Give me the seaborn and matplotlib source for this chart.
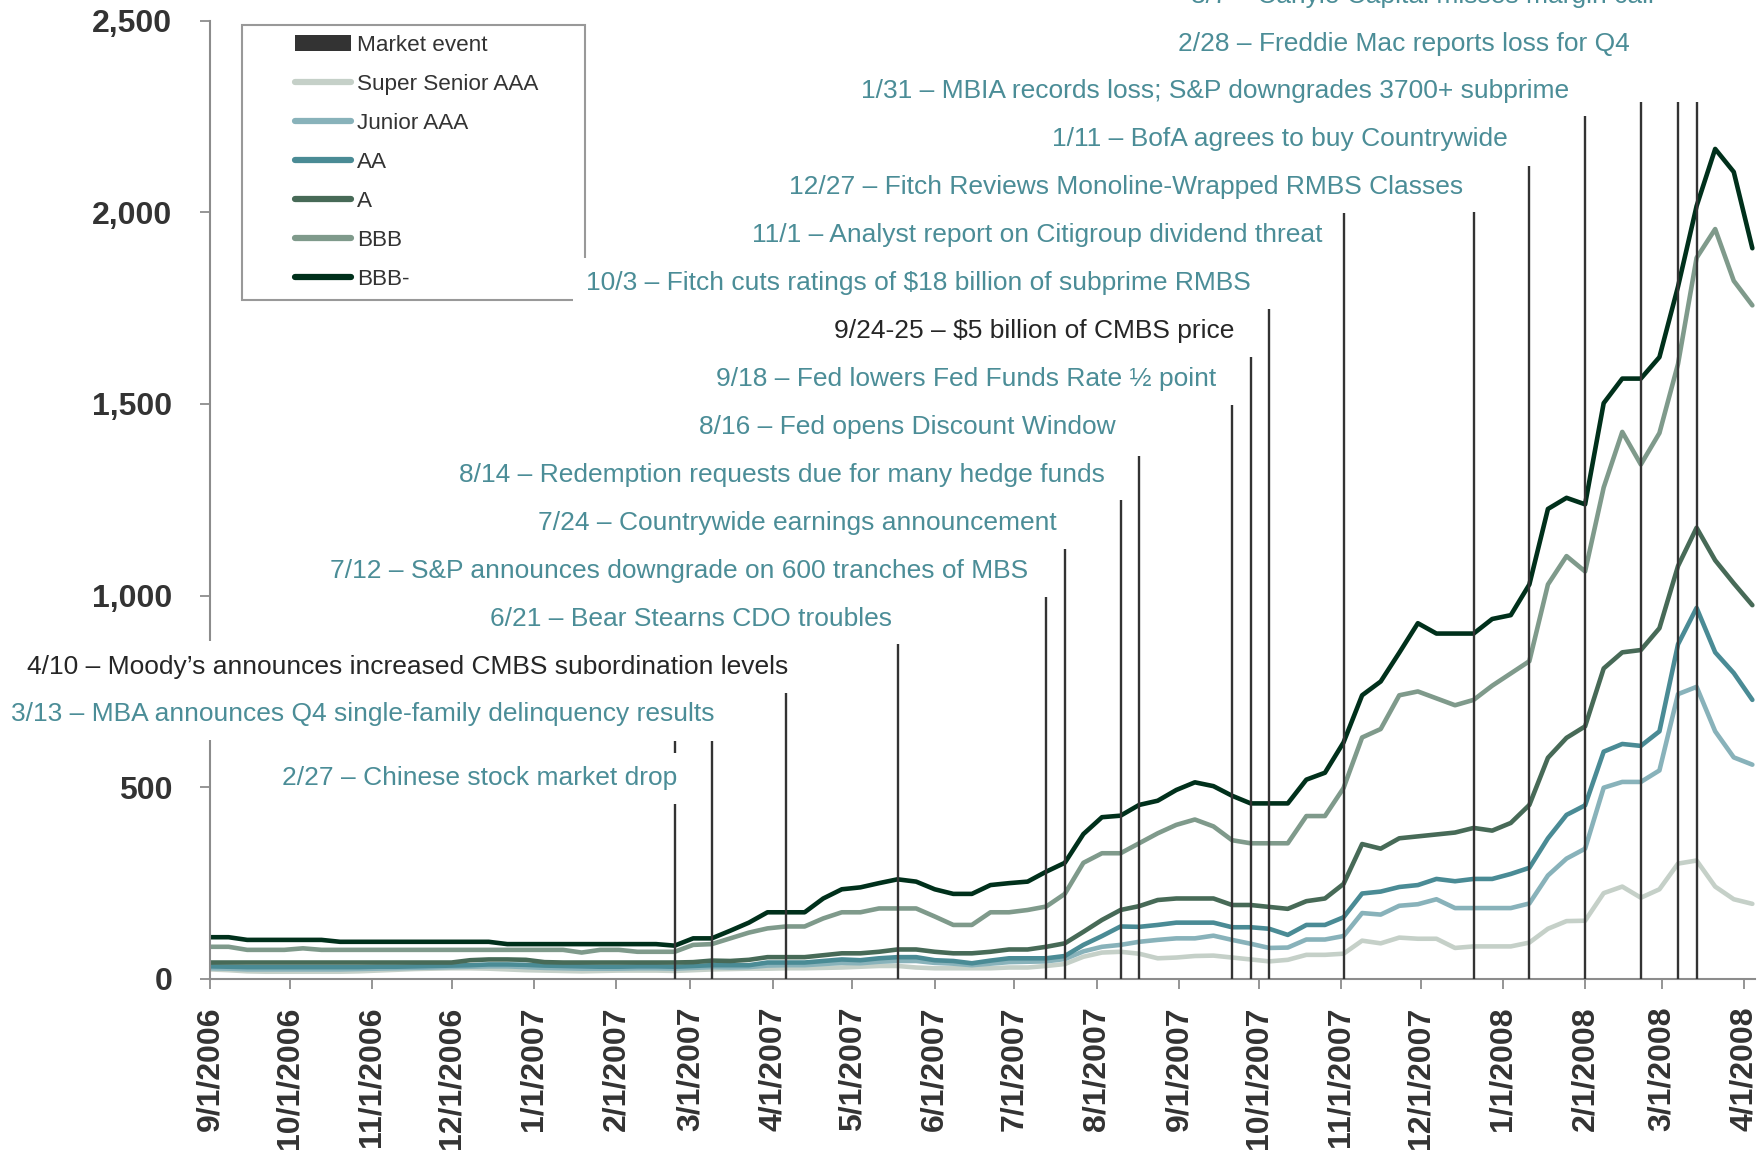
import pandas as pd
import seaborn as sns
import matplotlib.pyplot as plt
import matplotlib.dates as mdates
from matplotlib.patches import Patch, Rectangle
from matplotlib.lines import Line2D
from matplotlib.ticker import FuncFormatter

# weekly spread readings, 9/1/2006 .. 4/4/2008
dates = pd.date_range('2006-09-01', periods=84, freq='7D')

super_senior_aaa = [25, 23, 20, 19, 19, 19, 19, 19, 20, 22, 24, 26, 27, 28, 28, 27, 25, 23, 22, 21,
                    20, 21, 22, 22, 22, 21, 23, 25, 26, 27, 27, 28, 28, 29, 30, 32, 34, 34, 30, 28,
                    28, 28, 28, 30, 30, 34, 39, 58, 69, 71, 66, 54, 56, 60, 61, 56, 51, 46, 50, 63,
                    63, 66, 100, 93, 108, 105, 105, 81, 85, 85, 85, 95, 131, 151, 152, 224, 241, 212, 234, 301,
                    309, 241, 208, 196]
junior_aaa = [28, 27, 25, 25, 25, 25, 25, 25, 26, 27, 28, 29, 30, 31, 32, 33, 33, 31, 29, 28,
              27, 27, 27, 28, 28, 27, 29, 31, 30, 31, 35, 36, 36, 39, 42, 41, 45, 47, 47, 42,
              40, 36, 40, 44, 45, 46, 52, 72, 84, 89, 97, 102, 106, 106, 113, 102, 92, 81, 82, 103,
              103, 112, 172, 168, 191, 195, 208, 185, 185, 185, 185, 197, 270, 314, 340, 499, 514, 514, 544, 743,
              762, 646, 578, 559]
aa = [33, 32, 31, 31, 31, 31, 31, 31, 31, 32, 32, 33, 34, 35, 36, 38, 38, 37, 35, 34,
      33, 32, 32, 33, 33, 32, 34, 36, 36, 36, 43, 43, 43, 47, 51, 49, 54, 57, 57, 49,
      47, 41, 48, 54, 54, 54, 60, 89, 112, 137, 136, 141, 147, 147, 147, 135, 135, 131, 115, 141,
      141, 161, 223, 228, 240, 245, 261, 255, 261, 261, 274, 290, 367, 428, 453, 593, 613, 608, 646, 873,
      968, 852, 798, 728]
a = [43, 43, 43, 43, 43, 43, 43, 43, 43, 43, 43, 43, 43, 43, 49, 51, 51, 50, 44, 43,
     43, 43, 43, 43, 43, 43, 44, 48, 47, 50, 57, 57, 57, 62, 67, 67, 71, 77, 77, 71,
     67, 67, 71, 77, 77, 84, 93, 123, 154, 180, 190, 206, 210, 210, 210, 193, 193, 188, 183, 203,
     210, 248, 352, 340, 367, 372, 377, 382, 394, 387, 407, 454, 577, 629, 659, 810, 852, 858, 915, 1077,
     1177, 1092, 1032, 975]
bbb = [84, 84, 76, 76, 76, 80, 76, 76, 76, 76, 76, 76, 76, 76, 76, 76, 76, 76, 76, 76,
       69, 76, 76, 71, 71, 71, 89, 91, 106, 121, 132, 137, 137, 158, 174, 174, 184, 184, 184, 163,
       141, 141, 174, 174, 180, 189, 222, 303, 328, 328, 354, 380, 402, 416, 398, 362, 354, 354, 354, 425,
       425, 498, 630, 652, 740, 750, 732, 714, 728, 765, 797, 829, 1029, 1103, 1063, 1282, 1427, 1342, 1424, 1604,
       1881, 1956, 1821, 1757]
bbb_minus = [109, 109, 102, 102, 102, 102, 102, 97, 97, 97, 97, 97, 97, 97, 97, 97, 91, 91, 91, 91,
             91, 91, 91, 91, 91, 87, 106, 106, 126, 147, 174, 174, 174, 210, 234, 239, 250, 260, 254, 234,
             222, 222, 245, 250, 254, 280, 303, 378, 422, 426, 454, 465, 493, 513, 503, 478, 458, 458, 458, 520,
             538, 617, 740, 776, 851, 928, 901, 901, 901, 939, 949, 1029, 1226, 1255, 1238, 1502, 1566, 1566, 1622, 1806,
             2016, 2165, 2105, 1906]

series_names = ['Super Senior AAA', 'Junior AAA', 'AA', 'A', 'BBB', 'BBB-']
series_colors = ['#c5d0c8', '#88b2ba', '#4a8b95', '#476a57', '#7f9a8b', '#00301b']

# market events: week of the event and how high its marker goes
event_dates = ['2007-02-23', '2007-03-09', '2007-04-06', '2007-05-18', '2007-07-13', '2007-07-20',
               '2007-08-10', '2007-08-17', '2007-09-21', '2007-09-28', '2007-10-05', '2007-11-02',
               '2007-12-21', '2008-01-11', '2008-02-01', '2008-02-22', '2008-03-07', '2008-03-14']
event_tops = [620, 620, 746, 873, 996, 1122, 1249, 1363, 1498, 1622, 1748, 1998,
              2004, 2121, 2250, 2288, 2288, 2288]

event_labels = [
    '2/27 \u2013 Chinese stock market drop',
    '3/13 \u2013 MBA announces Q4 single-family delinquency results',
    '4/10 \u2013 Moody\u2019s announces increased CMBS subordination levels',
    '6/21 \u2013 Bear Stearns CDO troubles',
    '7/12 \u2013 S&P announces downgrade on 600 tranches of MBS',
    '7/24 \u2013 Countrywide earnings announcement',
    '8/14 \u2013 Redemption requests due for many hedge funds',
    '8/16 \u2013 Fed opens Discount Window',
    '9/18 \u2013 Fed lowers Fed Funds Rate \u00bd point',
    '9/24-25 \u2013 $5 billion of CMBS price',
    '10/3 \u2013 Fitch cuts ratings of $18 billion of subprime RMBS',
    '11/1 \u2013 Analyst report on Citigroup dividend threat',
    '12/27 \u2013 Fitch Reviews Monoline-Wrapped RMBS Classes',
    '1/11 \u2013 BofA agrees to buy Countrywide',
    '1/31 \u2013 MBIA records loss; S&P downgrades 3700+ subprime',
    '2/28 \u2013 Freddie Mac reports loss for Q4',
    '3/7 \u2013 Carlyle Capital misses margin call',
]
# right edge of each label on the date axis
label_right = ['2007-02-24', '2007-03-10', '2007-04-07', '2007-05-16', '2007-07-06', '2007-07-17',
               '2007-08-04', '2007-08-08', '2007-09-15', '2007-09-22', '2007-09-28', '2007-10-25',
               '2007-12-17', '2008-01-03', '2008-01-26', '2008-02-18', '2008-02-27']
# first label sits lower, the rest are stacked one row apart
label_y = [523] + [690 + 125 * i for i in range(len(event_labels) - 1)]
dark_labels = {2, 9}

df = pd.DataFrame({'date': dates})
for name, vals in zip(series_names, [super_senior_aaa, junior_aaa, aa, a, bbb, bbb_minus]):
    df[name] = vals
long_df = df.melt(id_vars='date', var_name='series', value_name='spread')

sns.set_style('white')
plt.rcParams['font.family'] = ['Liberation Sans', 'DejaVu Sans']

fig = plt.figure(figsize=(17.65, 11.52), dpi=100)
ax = fig.add_axes([210 / 1765, 1 - 979 / 1152, 1545 / 1765, (979 - 20.5) / 1152])

sns.lineplot(data=long_df, x='date', y='spread', hue='series', hue_order=series_names,
             palette=dict(zip(series_names, series_colors)), linewidth=3.3,
             solid_capstyle='round', legend=False, ax=ax, zorder=2)

ax.vlines(pd.to_datetime(event_dates), 0, event_tops, color='#333333', linewidth=1.7, zorder=3)

ax.set_xlim(mdates.date2num(pd.Timestamp('2006-09-01')), mdates.date2num(pd.Timestamp('2008-04-05')))
ax.set_ylim(0, 2500)
ax.set_xlabel('')
ax.set_ylabel('')

months = pd.date_range('2006-09-01', '2008-04-01', freq='MS')
ax.set_xticks(mdates.date2num(months))
ax.xaxis.set_major_formatter(FuncFormatter(
    lambda v, p: '{0.month}/{0.day}/{0.year}'.format(mdates.num2date(v))))
ax.set_yticks(range(0, 2501, 500))
ax.yaxis.set_major_formatter(FuncFormatter(lambda v, p: '{:,.0f}'.format(v)))

for lab in ax.get_xticklabels():
    lab.set_rotation(90)
ax.tick_params(axis='x', length=7, width=1.3, color='#8c8c8c', pad=13,
               labelsize=23, labelcolor='#333333', bottom=True)
ax.tick_params(axis='y', length=7, width=1.3, color='#8c8c8c', pad=20,
               labelsize=23, labelcolor='#333333', left=True)
for lab in ax.get_xticklabels() + ax.get_yticklabels():
    lab.set_fontweight('bold')

for side in ['top', 'right']:
    ax.spines[side].set_visible(False)
for side in ['left', 'bottom']:
    ax.spines[side].set_color('#8c8c8c')
    ax.spines[side].set_linewidth(1.5)

# event labels on white boxes
for i, (txt, xr, yv) in enumerate(zip(event_labels, label_right, label_y)):
    ax.text(mdates.date2num(pd.Timestamp(xr)), yv, txt,
            ha='right', va='center', fontsize=19,
            color='#262626' if i in dark_labels else '#4b8d97',
            bbox=dict(boxstyle='square,pad=0.5', fc='white', ec='none'),
            zorder=6, clip_on=False)

# legend with its own frame
frame = Rectangle((242 / 1765, 1 - 300 / 1152), 343 / 1765, 275 / 1152,
                  transform=fig.transFigure, facecolor='white', edgecolor='#999999',
                  linewidth=1.5, zorder=4, clip_on=False)
ax.add_patch(frame)

handles = [Patch(facecolor='#333333', edgecolor='none', label='Market event')]
for name, col in zip(series_names, series_colors):
    handles.append(Line2D([0], [0], color=col, linewidth=4.5, solid_capstyle='round', label=name))
leg = ax.legend(handles=handles, loc='upper left', bbox_to_anchor=(295 / 1765, 1 - 35 / 1152),
                bbox_transform=fig.transFigure, frameon=False, fontsize=16.2, labelcolor='#333333',
                handlelength=2.5, handletextpad=0.25, labelspacing=0.8, borderpad=0,
                borderaxespad=0)
leg.set_zorder(5)

fig.savefig('out.png', dpi=100)
